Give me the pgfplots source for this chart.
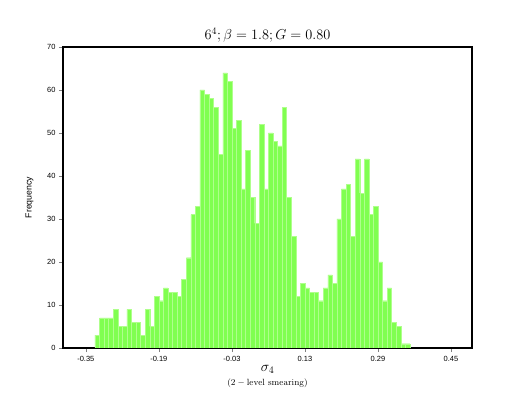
\documentclass[border=0pt]{standalone}
\usepackage{pgfplots}
\pgfplotsset{compat=1.18}
\usepackage{fontspec}
\newfontfamily\helv{Liberation Sans}
\definecolor{barfill}{RGB}{128,255,80}
\definecolor{baredge}{RGB}{175,255,140}
\begin{document}
\begin{tikzpicture}
\useasboundingbox (-63bp,-61bp) rectangle (466bp,348bp);
\begin{axis}[
  scale only axis,
  width=409bp, height=301bp,
  xmin=-0.40, xmax=0.496,
  ymin=0, ymax=70,
  axis line style={line width=2pt},
  xtick={-0.35,-0.19,-0.03,0.13,0.29,0.45},
  xticklabels={-0.35,-0.19,-0.03,0.13,0.29,0.45},
  ytick={0,10,20,30,40,50,60,70},
  tick align=outside,
  tick pos=left,
  major tick length=4bp,
  tick style={gray, line width=0.6pt},
  /pgf/number format/assume math mode=true,
  tick label style={font=\helv\fontsize{7.5}{8}\selectfont},
  xticklabel style={yshift=-1bp},
  title={$6^4;\beta=1.8;G=0.80$},
  title style={font=\fontsize{14}{16}\selectfont, yshift=-5bp},
  xlabel={$\sigma_4$\\[0pt]{\fontsize{9}{10}\selectfont$(2-\mathrm{level\ smearing})$}},
  xlabel style={align=center, font=\fontsize{14}{14}\selectfont, yshift=3bp},
  ylabel={Frequency},
  ylabel style={font=\helv\fontsize{8.8}{9}\selectfont, yshift=7bp},
]
\addplot[ybar interval, fill=barfill, draw=baredge, line width=0.4pt] coordinates {
(-0.33,3) (-0.32,7) (-0.31,7) (-0.30,7) (-0.29,9) (-0.28,5) (-0.27,5) (-0.26,9)
(-0.25,6) (-0.24,6) (-0.23,3) (-0.22,9) (-0.21,5) (-0.20,12) (-0.19,11) (-0.18,14)
(-0.17,13) (-0.16,13) (-0.15,12) (-0.14,16) (-0.13,21) (-0.12,31) (-0.11,33) (-0.10,60)
(-0.09,59) (-0.08,58) (-0.07,56) (-0.06,45) (-0.05,64) (-0.04,62) (-0.03,51) (-0.02,53)
(-0.01,37) (0.00,46) (0.01,35) (0.02,29) (0.03,52) (0.04,37) (0.05,50) (0.06,48)
(0.07,47) (0.08,56) (0.09,35) (0.10,26) (0.11,12) (0.12,15) (0.13,14) (0.14,13)
(0.15,13) (0.16,11) (0.17,14) (0.18,17) (0.19,15) (0.20,30) (0.21,37) (0.22,38)
(0.23,26) (0.24,44) (0.25,36) (0.26,44) (0.27,31) (0.28,33) (0.29,20) (0.30,11)
(0.31,14) (0.32,6) (0.33,5) (0.34,1) (0.35,1) (0.36,0)
};
\end{axis}
\end{tikzpicture}
\end{document}
